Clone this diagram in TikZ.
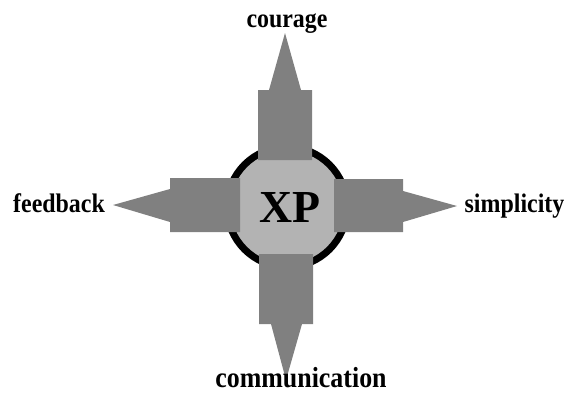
\documentclass[tikz,border=0pt]{standalone}
\usepackage{fontspec}
\usepackage{graphicx}
\setmainfont{Liberation Serif}
\definecolor{armgray}{RGB}{128,128,128}
\definecolor{coregray}{RGB}{179,179,179}
\newcommand{\tallword}[1]{\scalebox{1}[1.12]{#1}}
\begin{document}
\begin{tikzpicture}[x=1bp,y=-1bp,
  arm/.style={fill=armgray,draw=none},
  lbl/.style={inner sep=0pt,anchor=base,font=\fontsize{24}{28}\selectfont\bfseries},
  core/.style={inner sep=0pt,anchor=base,font=\fontsize{46}{50}\selectfont\bfseries}]
\useasboundingbox (0,0) rectangle (564,396);
% circle
\draw[fill=coregray,line width=7bp] (287,207) circle[radius=60];
% arms
\fill[arm] (258,160) -- (258,90) -- (269,90) -- (285,33) -- (301,90) -- (312,90) -- (312,160) -- cycle;
\fill[arm] (259,254) -- (259,324) -- (271,324) -- (286,380) -- (302,324) -- (313,324) -- (313,254) -- cycle;
\fill[arm] (240,178) -- (170,178) -- (170,189) -- (113,205) -- (170,222) -- (170,232) -- (240,232) -- cycle;
\fill[arm] (334,179) -- (403,179) -- (403,191) -- (457,206) -- (403,222) -- (403,232) -- (334,232) -- cycle;
% texts
\node[core] (xp) at (290,222) {XP};
\node[lbl] (courage) at (287,27.5) {\tallword{courage}};
\node[lbl] (feedback) at (59,212) {\tallword{feedback}};
\node[lbl] (simplicity) at (514.5,212) {\tallword{simplicity}};
\node[lbl,font=\fontsize{26}{30}\selectfont\bfseries] (communication) at (301,387) {\tallword{communication}};
\end{tikzpicture}
\end{document}
